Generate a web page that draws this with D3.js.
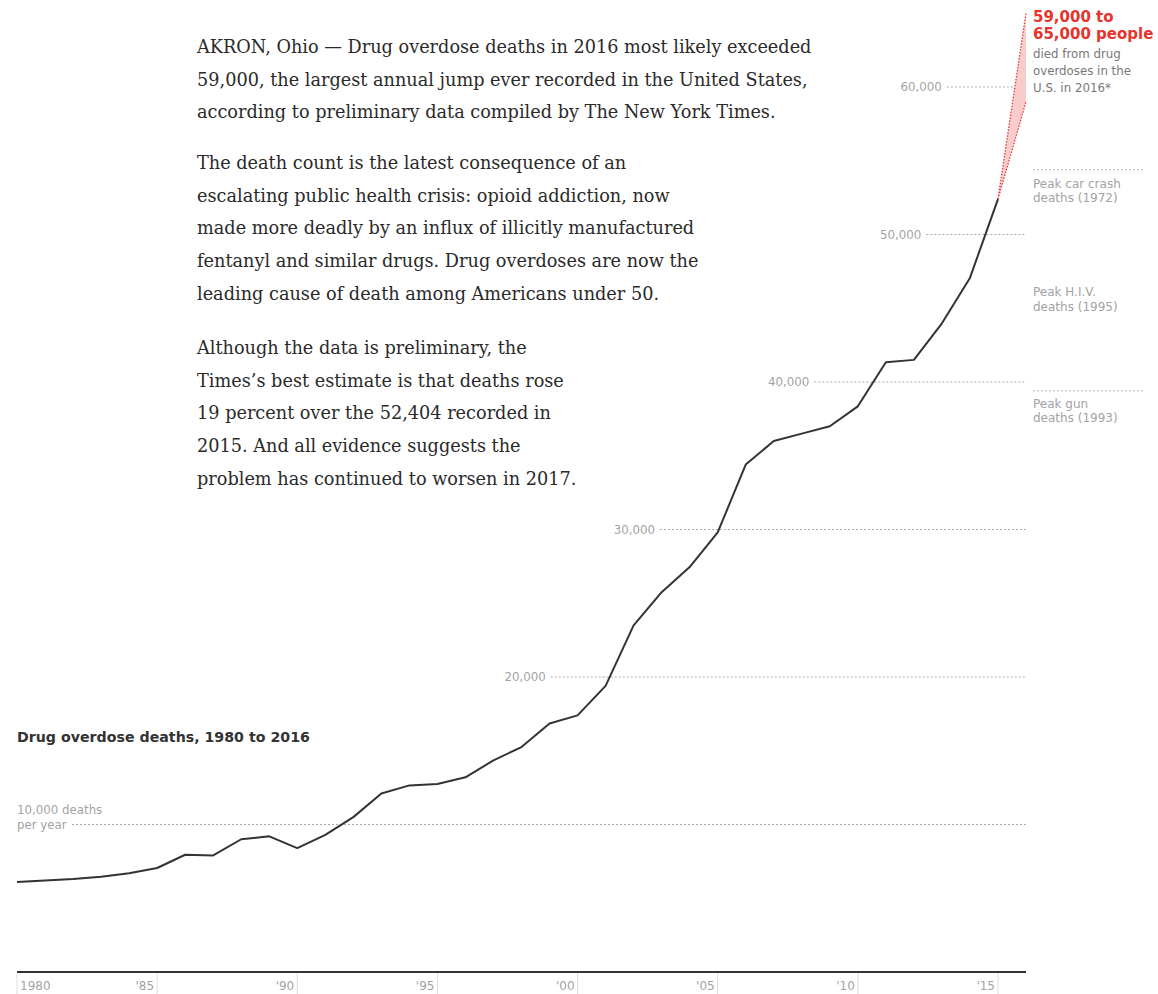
<!DOCTYPE html>
<html>
<head>
<meta charset="utf-8">
<script src="https://cdn.jsdelivr.net/npm/d3@7"></script>
<style>
  body { margin: 0; background: #fff; }
  svg { display: block; }
</style>
</head>
<body>
<div id="chart-container"></div>
<script>
// Drug overdose deaths per year, 1980-2015
const years = d3.range(1980, 2016);
const deaths = [
  6100, 6200, 6300, 6450, 6700, 7050, 7950, 7900, 9000, 9200,
  8400, 9300, 10500, 12100, 12650, 12750, 13200, 14350, 15250, 16850,
  17400, 19400, 23500, 25750, 27450, 29800, 34400, 36000, 36500, 37000,
  38350, 41340, 41500, 43980, 47055, 52404
];
// 2016 estimate range
const estimateYear = 2016;
const estimateLow = 59000;
const estimateHigh = 65000;

const gridValues = [10000, 20000, 30000, 40000, 50000, 60000];
const tickYears = [1980, 1985, 1990, 1995, 2000, 2005, 2010, 2015];
const tickLabels = ["1980", "'85", "'90", "'95", "'00", "'05", "'10", "'15"];

const peakLabels = [
  ["Peak car crash", "deaths (1972)"],
  ["Peak H.I.V.", "deaths (1995)"],
  ["Peak gun", "deaths (1993)"]
];
const peakValues = [54400, 50628, 39400];

const paragraphs = [
  ["AKRON, Ohio \u2014 Drug overdose deaths in 2016 most likely exceeded",
   "59,000, the largest annual jump ever recorded in the United States,",
   "according to preliminary data compiled by The New York Times."],
  ["The death count is the latest consequence of an",
   "escalating public health crisis: opioid addiction, now",
   "made more deadly by an influx of illicitly manufactured",
   "fentanyl and similar drugs. Drug overdoses are now the",
   "leading cause of death among Americans under 50."],
  ["Although the data is preliminary, the",
   "Times\u2019s best estimate is that deaths rose",
   "19 percent over the 52,404 recorded in",
   "2015. And all evidence suggests the",
   "problem has continued to worsen in 2017."]
];

const width = 1158;
const height = 994;
const sans = "'DejaVu Sans', Verdana, sans-serif";
const serif = "'DejaVu Serif', Georgia, serif";
const labelGray = "#a3a3a3";

const svg = d3.select("#chart-container")
  .append("svg")
  .attr("width", width)
  .attr("height", height);

const xScale = d3.scaleLinear().domain([1980, 2016]).range([17, 1026]);
const yScale = d3.scaleLinear().domain([0, 60000]).range([972, 87]);

const data = years.map((y, i) => ({ year: y, value: deaths[i] }));

// x position where the series crosses a value (used to place grid labels)
function crossing(v) {
  for (let i = 1; i < data.length; i++) {
    if (data[i].value >= v && data[i - 1].value < v) {
      const t = (v - data[i - 1].value) / (data[i].value - data[i - 1].value);
      return xScale(data[i - 1].year + t);
    }
  }
  const last = data[data.length - 1];
  const t = (v - last.value) / (estimateHigh - last.value);
  return xScale(last.year + t * (estimateYear - last.year));
}

// Gridlines
gridValues.forEach((v, i) => {
  const y = yScale(v);
  if (i === 0) {
    svg.append("text").attr("x", 17).attr("y", y - 11)
      .attr("font-family", sans).attr("font-size", 11.8).attr("fill", labelGray)
      .text("10,000 deaths");
    svg.append("text").attr("x", 17).attr("y", y + 4)
      .attr("font-family", sans).attr("font-size", 11.8).attr("fill", labelGray)
      .text("per year");
    svg.append("line").attr("x1", 72).attr("x2", 1026).attr("y1", y).attr("y2", y)
      .attr("stroke", "#aaa").attr("stroke-dasharray", "2,2");
  } else {
    const cx = crossing(v);
    const lx = cx - (i === gridValues.length - 1 ? 73 : 64);
    svg.append("text").attr("x", lx).attr("y", y + 4)
      .attr("text-anchor", "end")
      .attr("font-family", sans).attr("font-size", 11.8).attr("fill", labelGray)
      .text(d3.format(",")(v));
    svg.append("line").attr("x1", lx + 5).attr("x2", 1026).attr("y1", y).attr("y2", y)
      .attr("stroke", "#aaa").attr("stroke-dasharray", "2,2");
  }
});

// Peak annotations on the right
const peakTextOffset = [18, 71, 17];
peakLabels.forEach((lines, i) => {
  const y = yScale(peakValues[i]);
  if (i !== 1) {
    svg.append("line").attr("x1", 1033).attr("x2", 1143).attr("y1", y).attr("y2", y)
      .attr("stroke", "#bbb").attr("stroke-dasharray", "2,2");
  }
  lines.forEach((t, j) => {
    svg.append("text").attr("x", 1033).attr("y", y + peakTextOffset[i] + j * 14.5)
      .attr("font-family", sans).attr("font-size", 12).attr("fill", labelGray)
      .text(t);
  });
});

// Estimate fan for 2016
const last = data[data.length - 1];
const fan = [
  [xScale(last.year), yScale(last.value)],
  [xScale(estimateYear), yScale(estimateHigh)],
  [xScale(estimateYear), yScale(estimateLow)]
];
svg.append("path")
  .attr("d", d3.line()(fan) + "Z")
  .attr("fill", "#f9cccc")
  .attr("stroke", "none");
[1, 2].forEach(k => {
  svg.append("line")
    .attr("x1", fan[0][0]).attr("y1", fan[0][1])
    .attr("x2", fan[k][0]).attr("y2", fan[k][1])
    .attr("stroke", "#e8393a").attr("stroke-width", 1.3)
    .attr("stroke-dasharray", "1.5,1.5");
});

// Main line
svg.append("path")
  .datum(data)
  .attr("fill", "none")
  .attr("stroke", "#333")
  .attr("stroke-width", 2)
  .attr("stroke-linejoin", "round")
  .attr("d", d3.line().x(d => xScale(d.year)).y(d => yScale(d.value)));

// Estimate label
svg.append("text").attr("x", 1033).attr("y", 22)
  .attr("font-family", sans).attr("font-weight", "bold").attr("font-size", 15)
  .attr("fill", "#e8332d").text("59,000 to");
svg.append("text").attr("x", 1033).attr("y", 38.5)
  .attr("font-family", sans).attr("font-weight", "bold").attr("font-size", 15)
  .attr("fill", "#e8332d").text("65,000 people");
["died from drug", "overdoses in the", "U.S. in 2016*"].forEach((t, j) => {
  svg.append("text").attr("x", 1033).attr("y", 58 + j * 17)
    .attr("font-family", sans).attr("font-size", 11.8).attr("fill", "#777")
    .text(t);
});

// x-axis
svg.append("line").attr("x1", 17).attr("x2", 1026).attr("y1", 972).attr("y2", 972)
  .attr("stroke", "#333").attr("stroke-width", 2);
tickYears.forEach((yr, i) => {
  const x = xScale(yr);
  svg.append("line").attr("x1", x).attr("x2", x).attr("y1", 973).attr("y2", 994)
    .attr("stroke", "#ddd");
  svg.append("text")
    .attr("x", i === 0 ? x + 3 : x - 3)
    .attr("y", 990)
    .attr("text-anchor", i === 0 ? "start" : "end")
    .attr("font-family", sans).attr("font-size", 12).attr("fill", labelGray)
    .text(tickLabels[i]);
});

// Chart title
const title = svg.append("text").attr("x", 17).attr("y", 742)
  .attr("font-family", sans).attr("font-weight", "bold").attr("font-size", 14.5)
  .attr("fill", "#333").text("Drug overdose deaths, 1980 to 2016");
title.attr("font-size", 14.5 * 293 / title.node().getComputedTextLength());

// Article text
const paraStart = [53, 169, 354];
const lineHeight = 32.7;
const textGroup = svg.append("g");
paragraphs.forEach((p, i) => {
  p.forEach((t, j) => {
    textGroup.append("text")
      .attr("x", 197).attr("y", paraStart[i] + j * lineHeight)
      .attr("font-family", serif).attr("font-size", 17).attr("fill", "#2a2a2a")
      .text(t);
  });
});
// fit font size so that the first line spans the same width as the reference
const firstLine = textGroup.select("text").node();
const fs = 17 * 615 / firstLine.getComputedTextLength();
textGroup.selectAll("text").attr("font-size", fs);
</script>
</body>
</html>
